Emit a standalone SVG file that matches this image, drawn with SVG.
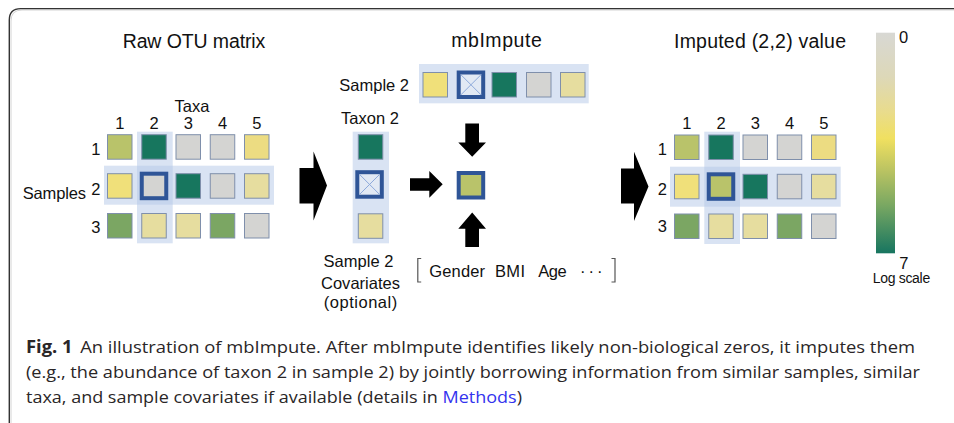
<svg xmlns="http://www.w3.org/2000/svg" width="954" height="423" viewBox="0 0 954 423">
<style>
text{font-family:"Liberation Sans",Arial,sans-serif;fill:#111}
.t{font-size:19.5px}
.l{font-size:16.5px}
.m{font-size:16.5px}
.c{stroke:#7f8fab;stroke-width:1}
.sel{stroke:#2f5597;stroke-width:4}
.band{fill:#b4c7e7;opacity:.5}
.cap{font-family:"Open Sans","Liberation Sans",sans-serif;font-size:17px;fill:#2a2627}
.x{stroke:#8eaadb;stroke-width:1}
.ar{fill:#000}
</style>
<defs>
<linearGradient id="lg" x1="0" y1="0" x2="0" y2="1">
<stop offset="0" stop-color="#d8d8d4"/>
<stop offset="0.2" stop-color="#ddd8b8"/>
<stop offset="0.36" stop-color="#e9dc8c"/>
<stop offset="0.48" stop-color="#f0e060"/>
<stop offset="0.62" stop-color="#bcc462"/>
<stop offset="0.78" stop-color="#7aa862"/>
<stop offset="1" stop-color="#177560"/>
</linearGradient>
</defs>
<rect width="954" height="423" fill="#fff"/>
<!-- frame -->
<path d="M11,423 V21 Q11,10 22,10 H954" fill="none" stroke="#d4d4d4" stroke-width="1"/>
<path d="M9.3,423 V20 Q9.3,8.6 20.7,8.6 H954" fill="none" stroke="#333" stroke-width="1.4"/>

<!-- Raw OTU matrix -->
<g id="raw-matrix">
<text class="t" x="194" y="47.7" text-anchor="middle" textLength="142.7">Raw OTU matrix</text>
<rect class="band" x="104" y="165.7" width="170" height="39"/>
<rect class="band" x="137" y="131.7" width="35.7" height="111.6"/>
<text class="l" x="192" y="112" text-anchor="middle">Taxa</text>
<g class="l" text-anchor="middle">
<text x="119.75" y="129.3">1</text><text x="154" y="129.3">2</text><text x="188.25" y="129.3">3</text><text x="222.5" y="129.3">4</text><text x="256.75" y="129.3">5</text>
</g>
<g class="l" text-anchor="end">
<text x="100.5" y="155">1</text><text x="100.5" y="195">2</text><text x="100.5" y="232.5">3</text>
</g>
<text class="l" x="22.7" y="199.3" textLength="63.3">Samples</text>
<rect class="c" x="107.5" y="134.7" width="24.5" height="24.5" fill="#b9c36a"/>
<rect class="c" x="141.75" y="134.7" width="24.5" height="24.5" fill="#17765e"/>
<rect class="c" x="176" y="134.7" width="24.5" height="24.5" fill="#d4d4d2"/>
<rect class="c" x="210.25" y="134.7" width="24.5" height="24.5" fill="#d4d4d2"/>
<rect class="c" x="244.5" y="134.7" width="24.5" height="24.5" fill="#ecdc82"/>
<rect class="c" x="107.5" y="173.7" width="24.5" height="24.5" fill="#f0e07a"/>
<rect class="sel" x="141.75" y="173.7" width="24.5" height="24.5" fill="#d4d4d2"/>
<rect class="c" x="176" y="173.7" width="24.5" height="24.5" fill="#17765e"/>
<rect class="c" x="210.25" y="173.7" width="24.5" height="24.5" fill="#d4d4d2"/>
<rect class="c" x="244.5" y="173.7" width="24.5" height="24.5" fill="#e6dd9f"/>
<rect class="c" x="107.5" y="213.5" width="24.5" height="24.5" fill="#7ba663"/>
<rect class="c" x="141.75" y="213.5" width="24.5" height="24.5" fill="#e6dd9f"/>
<rect class="c" x="176" y="213.5" width="24.5" height="24.5" fill="#e6dd9f"/>
<rect class="c" x="210.25" y="213.5" width="24.5" height="24.5" fill="#7ba663"/>
<rect class="c" x="244.5" y="213.5" width="24.5" height="24.5" fill="#d4d4d2"/>
</g>

<!-- mbImpute title -->
<g id="mbimpute-title">
<text class="t" x="496.5" y="46.7" text-anchor="middle" textLength="90.7">mbImpute</text>
</g>

<!-- Sample 2 row -->
<g id="sample2-row">
<text class="m" x="339.3" y="90.7" textLength="69.7">Sample 2</text>
<rect class="band" x="419" y="64" width="169.7" height="39.3"/>
<rect class="c" x="423" y="72.5" width="24.5" height="24.5" fill="#f0e07a"/>
<rect class="sel" x="458.7" y="72.5" width="24.5" height="24.5" fill="#e2e9f4"/>
<path class="x" d="M460.7,74.5 L481.2,95 M481.2,74.5 L460.7,95"/>
<rect class="c" x="492" y="72.5" width="24.5" height="24.5" fill="#17765e"/>
<rect class="c" x="526.5" y="72.5" width="24.5" height="24.5" fill="#d4d4d2"/>
<rect class="c" x="560.5" y="72.5" width="24.5" height="24.5" fill="#e6dd9f"/>
</g>

<!-- Taxon 2 column -->
<g id="taxon2-column">
<text class="m" x="370" y="124.3" text-anchor="middle" textLength="58">Taxon 2</text>
<rect class="band" x="352.7" y="131.7" width="36.3" height="111.6"/>
<rect class="c" x="358.3" y="134.7" width="24.5" height="24.5" fill="#17765e"/>
<rect class="sel" x="357.3" y="172.2" width="24.5" height="24.5" fill="#e2e9f4"/>
<path class="x" d="M359.3,174.2 L379.8,194.7 M379.8,174.2 L359.3,194.7"/>
<rect class="c" x="358.3" y="213.8" width="24.5" height="24.5" fill="#e6dd9f"/>
</g>

<!-- imputed cell -->
<g id="imputed-cell">
<rect class="sel" x="458.7" y="173" width="24.5" height="24.5" fill="#b9c36a"/>
</g>

<!-- covariates -->
<g id="covariates">
<text class="m" x="358.5" y="266.7" text-anchor="middle" textLength="70">Sample 2</text>
<text class="m" x="360.5" y="289" text-anchor="middle" textLength="79">Covariates</text>
<text class="m" x="360.5" y="307.5" text-anchor="middle" textLength="73.5">(optional)</text>
<path d="M421.2,258.5 H417.8 V282 H421.2 M611.5,258.5 H615 V282 H611.5" fill="none" stroke="#555" stroke-width="1.2"/>
<text class="m" x="429.3" y="276.7" textLength="55.7">Gender</text>
<text class="m" x="495" y="276.7" textLength="30">BMI</text>
<text class="m" x="538.3" y="276.7" textLength="28.4">Age</text>
<text class="m" x="580" y="276.7" letter-spacing="3">···</text>
</g>

<!-- connectors -->
<g id="connectors" class="ar">
<polygon points="299.5,168 313.5,168 313.5,151.5 327,185.5 313.5,220.5 313.5,203.5 299.5,203.5"/>
<polygon points="621,168.5 634,168.5 634,151.7 648.5,186.5 634,221 634,203.5 621,203.5"/>
<polygon points="410,178.3 429.3,178.3 429.3,171 442.7,184.3 429.3,197.7 429.3,190.7 410,190.7"/>
<polygon points="465.3,123.5 479,123.5 479,142.5 486,142.5 472.2,156.7 458.3,142.5 465.3,142.5"/>
<polygon points="472.2,212.5 486,228.8 479,228.8 479,247 465.3,247 465.3,228.8 458.3,228.8"/>
</g>

<!-- Imputed matrix -->
<g id="imputed-matrix">
<text class="t" x="760" y="47.7" text-anchor="middle" textLength="172">Imputed (2,2) value</text>
<rect class="band" x="670" y="166.7" width="170.7" height="40"/>
<rect class="band" x="704.3" y="131.7" width="35.7" height="112.3"/>
<g class="l" text-anchor="middle">
<text x="686.75" y="129.3">1</text><text x="721" y="129.3">2</text><text x="755.25" y="129.3">3</text><text x="789.5" y="129.3">4</text><text x="823.75" y="129.3">5</text>
</g>
<g class="l" text-anchor="end">
<text x="667" y="154.5">1</text><text x="667" y="194.5">2</text><text x="667" y="232">3</text>
</g>
<rect class="c" x="674.5" y="135" width="24.5" height="24.5" fill="#b9c36a"/>
<rect class="c" x="708.75" y="135" width="24.5" height="24.5" fill="#17765e"/>
<rect class="c" x="743" y="135" width="24.5" height="24.5" fill="#d4d4d2"/>
<rect class="c" x="777.25" y="135" width="24.5" height="24.5" fill="#d4d4d2"/>
<rect class="c" x="811.5" y="135" width="24.5" height="24.5" fill="#ecdc82"/>
<rect class="c" x="674.5" y="174.3" width="24.5" height="24.5" fill="#f0e07a"/>
<rect class="sel" x="708.75" y="174.3" width="24.5" height="24.5" fill="#b9c36a"/>
<rect class="c" x="743" y="174.3" width="24.5" height="24.5" fill="#17765e"/>
<rect class="c" x="777.25" y="174.3" width="24.5" height="24.5" fill="#d4d4d2"/>
<rect class="c" x="811.5" y="174.3" width="24.5" height="24.5" fill="#e6dd9f"/>
<rect class="c" x="674.5" y="214" width="24.5" height="24.5" fill="#7ba663"/>
<rect class="c" x="708.75" y="214" width="24.5" height="24.5" fill="#e6dd9f"/>
<rect class="c" x="743" y="214" width="24.5" height="24.5" fill="#e6dd9f"/>
<rect class="c" x="777.25" y="214" width="24.5" height="24.5" fill="#7ba663"/>
<rect class="c" x="811.5" y="214" width="24.5" height="24.5" fill="#d4d4d2"/>
</g>

<!-- color scale -->
<g id="color-scale">
<rect x="876" y="32.7" width="19" height="220.6" fill="url(#lg)"/>
<text class="l" x="899" y="43.3">0</text>
<text class="l" x="899.3" y="268.5">7</text>
<text x="872.7" y="283" font-size="14" textLength="57.5">Log scale</text>
</g>

<!-- caption -->
<g id="caption">
<text class="cap" x="26" y="353" textLength="889" lengthAdjust="spacingAndGlyphs"><tspan font-weight="bold">Fig. 1</tspan><tspan dx="7">An illustration of mbImpute. After mbImpute identifies likely non-biological zeros, it imputes them</tspan></text>
<text class="cap" x="26" y="378" textLength="894" lengthAdjust="spacingAndGlyphs">(e.g., the abundance of taxon 2 in sample 2) by jointly borrowing information from similar samples, similar</text>
<text class="cap" x="26" y="403" textLength="496" lengthAdjust="spacingAndGlyphs">taxa, and sample covariates if available (details in <tspan fill="#3333ee">Methods</tspan>)</text>
</g>
</svg>
